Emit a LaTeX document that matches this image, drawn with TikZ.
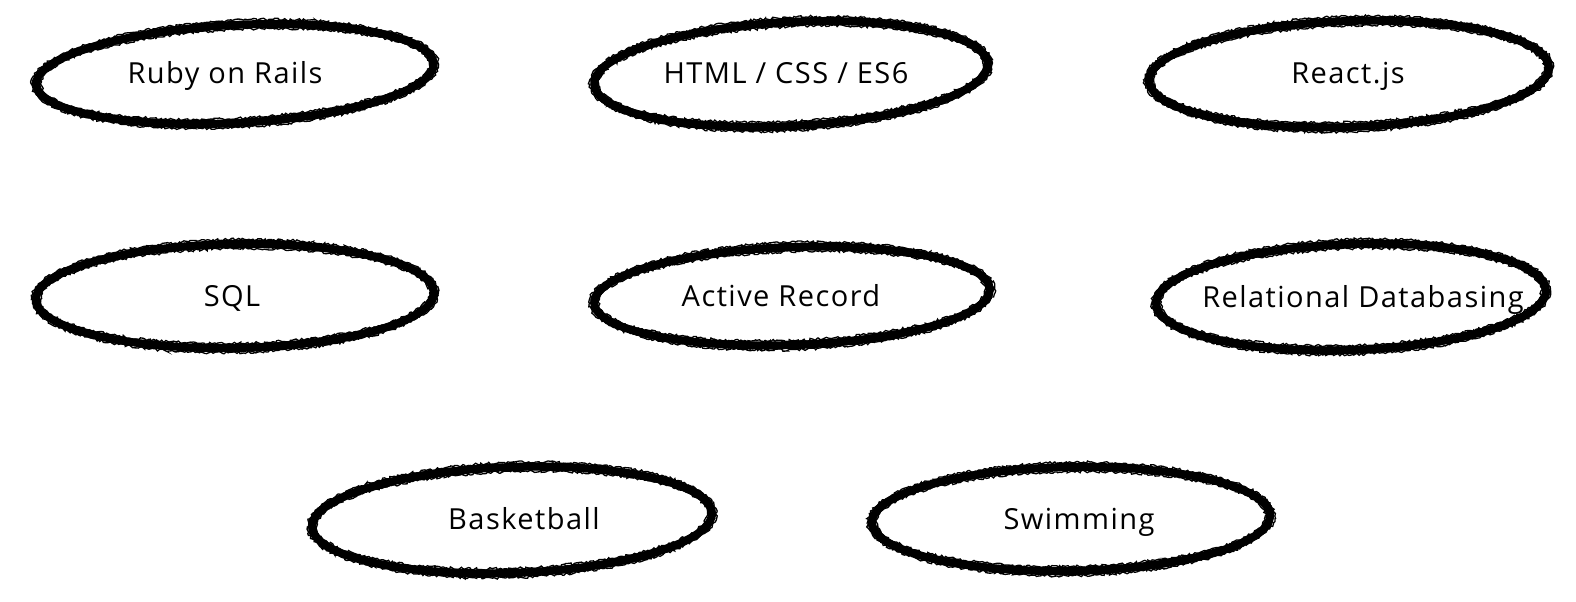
\documentclass[tikz,border=0pt]{standalone}
\usepackage{fontspec}
\setmainfont[LetterSpace=5]{Open Sans}
\usetikzlibrary{decorations.pathmorphing}
\tikzset{
  lbl/.style={font=\fontsize{29}{32}\selectfont, inner sep=0pt, text=black, anchor=base},
  brush/.style={line width=8pt, black},
  rough/.style={line width=1.3pt, black, decorate,
    decoration={random steps, segment length=2pt, amplitude=1.3pt}},
}
\newcommand{\myoval}[5]{% x, y, rx, ry, angle
  \begin{scope}[rotate around={#5:(#1,#2)}]
    \draw[brush] (#1,#2) ellipse [x radius=#3, y radius=#4];
    \draw[rough] (#1,#2) ellipse [x radius=#3+4.6, y radius=#4+4.6];
    \draw[rough] (#1,#2) ellipse [x radius=#3+3, y radius=#4+3];
    \draw[rough] (#1,#2) ellipse [x radius=#3-3, y radius=#4-3];
    \draw[rough] (#1,#2) ellipse [x radius=#3-4.6, y radius=#4-4.6];
  \end{scope}}
\begin{document}
\begin{tikzpicture}[x=1pt,y=-1pt]
\useasboundingbox (0,0) rectangle (1576,602);
% ovals
\myoval{235}{74}{199}{49}{3}
\myoval{791}{74}{197}{52}{3}
\myoval{1349}{74}{200}{53}{2}
\myoval{235}{296}{199}{52}{1}
\myoval{792}{296}{198}{49}{2}
\myoval{1351}{297}{195}{53}{2}
\myoval{512}{520}{200}{53}{2}
\myoval{1071}{519}{199}{52}{1}
% labels
\node[lbl] (ruby) at (225,84) {Ruby on Rails};
\node[lbl] (html) at (786,84) {HTML / CSS / ES6};
\node[lbl] (react) at (1348,84) {React.js};
\node[lbl] (sql) at (232,306) {SQL};
\node[lbl] (ar) at (781,306) {Active Record};
\node[lbl] (rdb) at (1363,307) {Relational Databasing};
\node[lbl] (bball) at (524,529) {Basketball};
\node[lbl] (swim) at (1079,529) {Swimming};
\end{tikzpicture}
\end{document}
